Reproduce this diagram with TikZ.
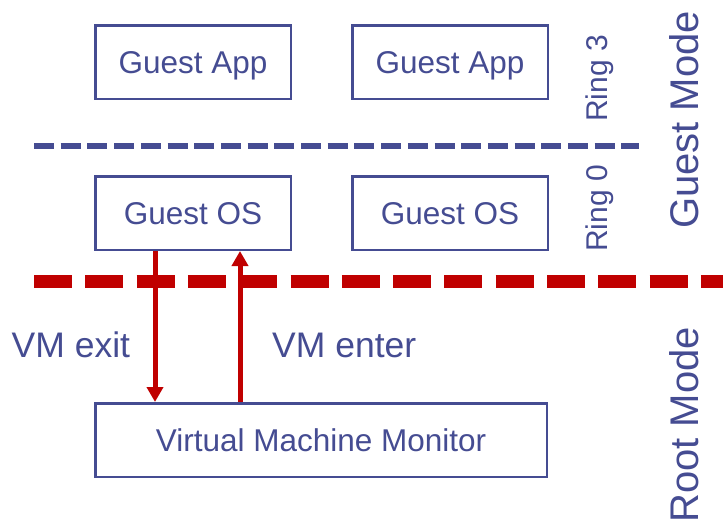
\documentclass[tikz,border=0pt]{standalone}
\usepackage{fontspec}
\setmainfont{Liberation Sans}
\usetikzlibrary{arrows.meta}
\definecolor{myblue}{RGB}{69,76,146}
\definecolor{myred}{RGB}{192,0,0}
\tikzset{
  box/.style={draw=myblue, line width=2.5pt, minimum width=195.5pt, minimum height=73.5pt,
    inner sep=0pt, text=myblue, font=\fontsize{31.5}{36}\selectfont, text height=22.6pt, text depth=0pt},
  bluedash/.style={draw=myblue, line width=6pt, dash pattern=on 20pt off 6.7pt},
  reddash/.style={draw=myred, line width=12.5pt, dash pattern=on 38pt off 13.3pt},
  vmarrow/.style={draw=myred, line width=5pt, -{Triangle[width=16pt,length=15pt]}},
  vmlabel/.style={text=myblue, font=\fontsize{35.5}{40}\selectfont, inner sep=0pt},
  ringlabel/.style={text=myblue, font=\fontsize{30}{34}\selectfont, inner sep=0pt, rotate=90, anchor=base},
  modelabel/.style={text=myblue, font=\fontsize{40}{46}\selectfont, inner sep=0pt, rotate=90, anchor=base}
}
\begin{document}
\begin{tikzpicture}[x=1pt,y=-1pt]
\useasboundingbox[fill=white] (0,0) rectangle (723,525);
\node[box] (ga1) at (193,62) {Guest App};
\node[box] (ga2) at (450,62) {Guest App};
\node[box] (go1) at (193,213) {Guest OS};
\node[box] (go2) at (450,213) {Guest OS};
\node[box, minimum width=451.5pt] (vmm) at (321,440) {Virtual Machine Monitor};
\coordinate (bl) at (34,145.7);
\coordinate (br) at (639,145.7);
\draw[bluedash] (bl) -- (br);
\coordinate (rl) at (34,281.7);
\coordinate (rr) at (723,281.7);
\draw[reddash] (rl) -- (rr);
\draw[vmarrow] ([xshift=61pt]go1.south west) -- ([xshift=61pt]vmm.north west);
\draw[vmarrow] ([xshift=146pt]vmm.north west) -- ([xshift=146pt]go1.south west);
\node[vmlabel, anchor=base west] (exitl) at (11.5,357) {VM exit};
\node[vmlabel, anchor=base west] (enterl) at (272,357) {VM enter};
\node[ringlabel] (r3) at (607,78.5) {Ring 3};
\node[ringlabel] (r0) at (607,208.5) {Ring 0};
\node[modelabel] (gm) at (698,120) {Guest Mode};
\node[modelabel] (rm) at (698,425) {Root Mode};
\end{tikzpicture}
\end{document}
